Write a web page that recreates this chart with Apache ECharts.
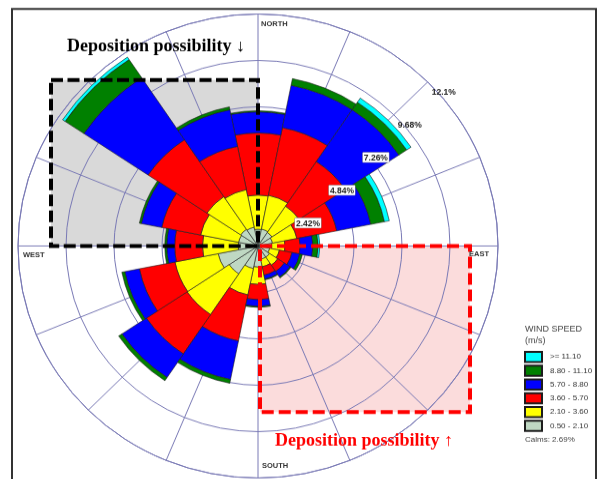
<!DOCTYPE html>
<html>
<head>
<meta charset="utf-8">
<script src="https://cdn.jsdelivr.net/npm/echarts@6/dist/echarts.min.js"></script>
<style>
  html, body { margin: 0; padding: 0; background: #ffffff; overflow: hidden; }
  #wrap { width: 598px; height: 479px; overflow: hidden; }
  /* the rose is drawn slightly flattened: 240 px wide radius, 232 px tall */
  #chart { width: 598px; height: 496px; transform-origin: 0 0; }
</style>
</head>
<body>
<div id="wrap"><div id="chart"></div></div>
<script>
// Wind directions, clockwise from north
const directions = ['N', 'NNE', 'NE', 'ENE', 'E', 'ESE', 'SE', 'SSE', 'S', 'SSW', 'SW', 'WSW', 'W', 'WNW', 'NW', 'NNW'];

// Wind speed classes (m/s), innermost first
const speedClasses = ['0.50 - 2.10', '2.10 - 3.60', '3.60 - 5.70', '5.70 - 8.80', '8.80 - 11.10', '>= 11.10'];

// Frequency (%) of each speed class per direction
const freq_050_210  = [0.88, 0.90, 0.85, 0.75, 0.70, 0.60, 0.70, 0.70, 1.10, 1.20, 1.75, 2.05, 1.00, 1.00, 1.05, 1.00];
const freq_210_360  = [1.78, 1.80, 1.65, 1.25, 0.66, 0.50, 0.50, 0.40, 0.90, 1.40, 2.55, 2.22, 1.80, 1.95, 2.05, 2.00];
const freq_360_570  = [3.24, 3.60, 2.80, 2.05, 0.76, 0.65, 0.40, 0.45, 0.80, 2.45, 2.47, 1.83, 1.40, 2.00, 3.57, 2.30];
const freq_570_880  = [1.10, 2.25, 3.25, 1.75, 0.65, 0.40, 0.35, 0.21, 0.35, 2.05, 1.48, 0.75, 0.40, 1.05, 3.89, 1.95];
const freq_880_1110 = [0.06, 0.35, 0.47, 0.70, 0.26, 0.13, 0.05, 0.04, 0.05, 0.20, 0.20, 0.15, 0.10, 0.10, 1.14, 0.15];
const freq_ge_1110  = [0.00, 0.00, 0.26, 0.25, 0.09, 0.00, 0.00, 0.00, 0.00, 0.00, 0.00, 0.00, 0.00, 0.00, 0.15, 0.00];

// Frequency rings (%)
const ringTicks = [2.42, 4.84, 7.26, 9.68, 12.1];
const calmsText = 'Calms: 2.69%';

const classFreqs = [freq_050_210, freq_210_360, freq_360_570, freq_570_880, freq_880_1110, freq_ge_1110];
const classColors = ['#bfd8c3', '#ffff00', '#ff0000', '#0000ff', '#008000', '#00ffff'];

// vertical squash applied to the whole canvas
const SY = 232 / 240;
document.getElementById('chart').style.transform = 'scaleY(' + SY + ')';
const Y = v => v / SY;   // screen y -> canvas y

const CX = 258, CY = Y(246), R = 240;
const gridColor = '#7a7ab6';
const sans = 'Liberation Sans, Arial, sans-serif';
const serif = 'Liberation Serif, Times New Roman, serif';

const chart = echarts.init(document.getElementById('chart'), null, { renderer: 'canvas' });

const series = classFreqs.map((vals, i) => ({
  type: 'bar',
  name: speedClasses[i],
  coordinateSystem: 'polar',
  polarIndex: 1,
  stack: 'windrose',
  barCategoryGap: '0%',
  data: vals.map(v => (v === 0 ? '-' : v)),
  itemStyle: { color: classColors[i], borderColor: '#1c1c1c', borderWidth: 0.6 },
  z: 3,
  silent: true
}));

const boxL = 51, boxT = Y(80);
const pinkR = 470, pinkB = Y(412);

const staticGraphics = [
  // shaded zones behind the grid
  { type: 'rect', z: 0, shape: { x: boxL, y: boxT, width: CX - boxL, height: CY - boxT }, style: { fill: '#d9d9d9' } },
  { type: 'rect', z: 0, shape: { x: CX + 2, y: CY, width: pinkR - CX - 2, height: pinkB - CY }, style: { fill: '#fbdcdc' } },
  // dashed zone outlines on top of the bars
  { type: 'rect', z: 20, shape: { x: boxL, y: boxT, width: CX - boxL, height: CY - boxT },
    style: { fill: 'none', stroke: '#000000', lineWidth: 4, lineDash: [12, 4.5] } },
  { type: 'rect', z: 20, shape: { x: CX + 2, y: CY, width: pinkR - CX - 2, height: pinkB - CY },
    style: { fill: 'none', stroke: '#ff0000', lineWidth: 4, lineDash: [12, 5] } },
  // outer frame
  { type: 'rect', z: 30, shape: { x: 12, y: Y(9), width: 584, height: Y(500) },
    style: { fill: 'none', stroke: '#333333', lineWidth: 2 } },
  // annotations
  { type: 'text', z: 30, style: { text: 'Deposition possibility \u2193', x: 67, y: Y(47), verticalAlign: 'middle',
    font: 'bold 18px ' + serif, fill: '#000000' } },
  { type: 'text', z: 30, style: { text: 'Deposition possibility \u2191', x: 275, y: Y(441), verticalAlign: 'middle',
    font: 'bold 18px ' + serif, fill: '#ff0000' } },
  // compass labels
  { type: 'text', z: 30, style: { text: 'NORTH', x: 261, y: Y(24), verticalAlign: 'middle', font: 'bold 7.5px ' + sans, fill: '#333333' } },
  { type: 'text', z: 30, style: { text: 'WEST', x: 23, y: Y(255), verticalAlign: 'middle', font: 'bold 7.5px ' + sans, fill: '#333333' } },
  { type: 'text', z: 30, style: { text: 'EAST', x: 469, y: Y(254), verticalAlign: 'middle', font: 'bold 7.5px ' + sans, fill: '#333333' } },
  { type: 'text', z: 30, style: { text: 'SOUTH', x: 262, y: Y(466), verticalAlign: 'middle', font: 'bold 7.5px ' + sans, fill: '#333333' } },
  // legend header and calms
  { type: 'text', z: 30, style: { text: 'WIND SPEED', x: 525, y: Y(329), verticalAlign: 'middle', font: '9px ' + sans, fill: '#444444' } },
  { type: 'text', z: 30, style: { text: '(m/s)', x: 525, y: Y(341), verticalAlign: 'middle', font: '9px ' + sans, fill: '#444444' } },
  { type: 'text', z: 30, style: { text: calmsText, x: 525, y: Y(440), verticalAlign: 'middle', font: '8px ' + sans, fill: '#444444' } }
];

const hiddenAxisParts = { axisLine: { show: false }, axisTick: { show: false }, axisLabel: { show: false }, splitLine: { show: false } };

chart.setOption({
  animation: false,
  backgroundColor: '#ffffff',
  polar: [
    { center: [CX, CY], radius: R },
    { center: [CX, CY], radius: R }
  ],
  angleAxis: [
    {
      polarIndex: 0, type: 'value', min: 0, max: 360, interval: 22.5,
      startAngle: 90, clockwise: true, z: 1,
      axisLine: { show: true, lineStyle: { color: gridColor, width: 1 } },
      axisTick: { show: false }, axisLabel: { show: false },
      splitLine: { show: true, lineStyle: { color: gridColor, width: 1 } }
    },
    Object.assign({
      polarIndex: 1, type: 'category', data: directions,
      startAngle: 90 + 11.25, clockwise: true, boundaryGap: true
    }, hiddenAxisParts)
  ],
  radiusAxis: [
    {
      polarIndex: 0, type: 'value', min: 0, max: 12.1, interval: 2.42, z: 1,
      axisLine: { show: false }, axisTick: { show: false }, axisLabel: { show: false },
      splitLine: { show: true, lineStyle: { color: gridColor, width: 1 } }
    },
    Object.assign({ polarIndex: 1, type: 'value', min: 0, max: 12.1 }, hiddenAxisParts)
  ],
  legend: {
    orient: 'vertical', left: 524, top: Y(351), padding: 0,
    itemWidth: 17, itemHeight: Y(10), itemGap: 1.9,
    icon: 'rect', selectedMode: false,
    data: speedClasses.slice().reverse(),
    textStyle: { fontFamily: sans, fontSize: 8, lineHeight: Y(11), color: '#333333', padding: [0, 0, 0, 3] }
  },
  series: series,
  graphic: staticGraphics
});

// ring value labels along the north-east spoke
const ringLabels = ringTicks.map((v, i) => {
  let p = chart.convertToPixel({ polarIndex: 0 }, [v, 45]);
  if (!p) p = chart.convertToPixel({ seriesIndex: 0 }, [v, 'NE']);
  const inBars = i < 3;
  return {
    type: 'text', z: 25,
    style: {
      text: (v === 12.1 ? '12.1' : v.toFixed(2)) + '%',
      x: p[0] + 3, y: p[1] + Y(5), verticalAlign: 'top',
      font: 'bold 8.5px ' + sans, fill: '#222222',
      backgroundColor: inBars ? '#ffffff' : null,
      borderColor: inBars ? '#8a8a8a' : null, borderWidth: inBars ? 0.5 : 0,
      padding: [1, 1, 0, 1]
    }
  };
});

chart.setOption({ graphic: staticGraphics.concat(ringLabels) });
</script>
</body>
</html>
